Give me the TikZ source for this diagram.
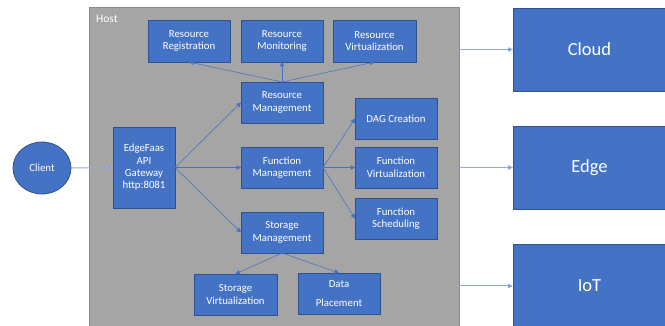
\documentclass[tikz,border=0pt]{standalone}
\usepackage{fontspec}
\setmainfont{Carlito}
\usetikzlibrary{arrows.meta,shapes.geometric}
\definecolor{boxblue}{HTML}{4472C4}
\definecolor{boxedge}{HTML}{2F528F}
\definecolor{hostgray}{HTML}{A5A5A5}
\definecolor{hostedge}{HTML}{8A8A8A}
\definecolor{linkblue}{HTML}{8FAADC}
\tikzset{
  bx/.style={draw=boxedge, fill=boxblue, text=white, align=center, line width=0.8pt,
    inner sep=0pt, outer sep=0pt, font=\fontsize{10.8}{12.4}\selectfont},
  bigbx/.style={bx, font=\fontsize{18.5}{20}\selectfont, anchor=north west},
  hostbox/.style={draw=hostedge, fill=hostgray, line width=1pt, inner sep=0pt, outer sep=0pt, anchor=north west},
  arr/.style={draw=boxblue, line width=0.55pt, -{Triangle[length=4.5pt,width=4.5pt]}},
  outarr/.style={draw=linkblue, line width=1pt, -{Triangle[length=5pt,width=4.5pt,fill=boxblue]}}
}
\begin{document}
\begin{tikzpicture}[x=1pt,y=-1pt]
\useasboundingbox (0,0) rectangle (665,326);
\clip (0,0) rectangle (665,326);
% host container
\node[hostbox, minimum width=370pt, minimum height=340pt] (host) at (89,8) {};
\node[text=white, anchor=west, inner sep=0pt, font=\fontsize{11.5}{12}\selectfont] (hostlabel) at (96,19) {Host};
% resource row
\node[bx, minimum width=82pt, minimum height=42pt] (rr) at (189,41) {Resource\\Registration};
\node[bx, minimum width=82pt, minimum height=42pt] (rmon) at (282,41) {Resource\\Monitoring};
\node[bx, minimum width=83pt, minimum height=42pt] (rv) at (374.5,41) {Resource\\Virtualization};
\node[bx, minimum width=82pt, minimum height=41pt] (rm) at (282,102.5) {Resource\\Management};
% gateway
\node[bx, minimum width=62pt, minimum height=81pt] (gw) at (144,167.5) {EdgeFaas\\API\\Gateway\\http:8081};
% function / storage
\node[bx, minimum width=82pt, minimum height=41pt] (fm) at (282,167.5) {Function\\Management};
\node[bx, minimum width=82pt, minimum height=41pt] (sm) at (282,232.5) {Storage\\Management};
\node[bx, minimum width=83pt, minimum height=41pt] (sv) at (235.5,294.5) {Storage\\Virtualization};
\node[bx, minimum width=82pt, minimum height=41pt] (dp) at (339,293.5) {Data\\[7pt]Placement};
\node[bx, minimum width=82pt, minimum height=41pt] (dag) at (396,118.5) {DAG Creation};
\node[bx, minimum width=82pt, minimum height=41pt] (fv) at (396,167.5) {Function\\Virtualization};
\node[bx, minimum width=82pt, minimum height=41pt] (fs) at (396,218.5) {Function\\Scheduling};
% client
\node[bx, ellipse, minimum width=58pt, minimum height=52pt] (client) at (42,168) {Client};
% targets
\node[bigbx, minimum width=153pt, minimum height=83pt] (cloud) at (513,8) {Cloud};
\node[bigbx, minimum width=153pt, minimum height=83pt] (edge) at (513,126) {Edge};
\node[bigbx, minimum width=153pt, minimum height=84pt] (iot) at (513,244) {IoT};
% connectors
\draw[outarr] (client.east) -- (gw.west);
\draw[arr] (gw.east) -- (rm.west);
\draw[arr] (gw.east) -- (fm.west);
\draw[arr] (gw.east) -- (sm.west);
\draw[arr] (rm.north) -- (rr.south);
\draw[arr] (rm.north) -- (rmon.south);
\draw[arr] (rm.north) -- (rv.south);
\draw[arr] (fm.east) -- (dag.west);
\draw[arr] (fm.east) -- (fv.west);
\draw[arr] (fm.east) -- (fs.west);
\draw[arr] (sm.south) -- (sv.north);
\draw[arr] (sm.south) -- (dp.north);
\draw[outarr] (host.east |- cloud.west) -- (cloud.west);
\draw[outarr] (host.east |- edge.west) -- (edge.west);
\draw[outarr] (host.east |- iot.west) -- (iot.west);
\end{tikzpicture}
\end{document}
